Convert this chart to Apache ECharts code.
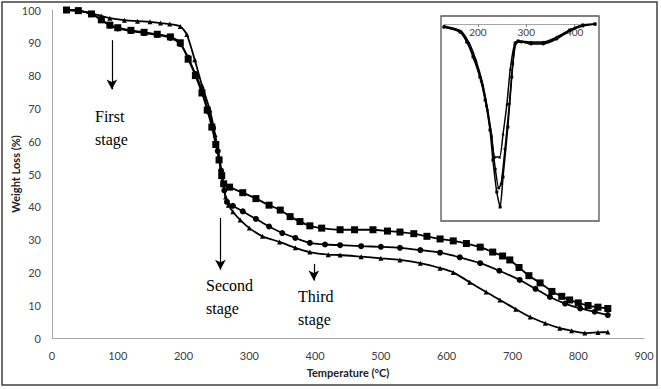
<!DOCTYPE html>
<html><head><meta charset="utf-8">
<script src="https://cdn.jsdelivr.net/npm/echarts@6/dist/echarts.min.js"></script>
<style>html,body{margin:0;padding:0;background:#fff}#c{width:661px;height:389px}</style>
</head><body><div id="c"></div>
<script>
// Main TGA curves [temperature °C, weight %]
var seriesSquare = [[22,100],[40,99.8],[60,98.8],[75,97],[88,95.4],[100,94.6],[120,93.8],[140,93.2],[160,92.6],[180,91.8],[195,90],[207,85],[218,80],[228,74.7],[236,69.5],[243,64.3],[249,59],[254,54.3],[258,49.5],[261,47],[270,46],[290,44.3],[310,42.5],[330,40.5],[347,39],[362,37],[377,35.5],[392,34.2],[410,33.5],[438,33],[460,33],[488,33],[510,32.6],[529,32.3],[550,31.8],[570,31],[590,30.2],[610,29.6],[630,28.8],[651,27.7],[670,26.2],[685,25],[696,23.8],[710,21.5],[725,19],[742,16.8],[760,14.2],[775,12.7],[787,11.6],[800,10.7],[815,9.9],[830,9.4],[845,9]];
var seriesCircle = [[22,100],[40,99.8],[60,98.8],[75,97],[88,95.2],[100,94.4],[120,93.6],[140,93],[160,92.4],[180,91.5],[195,89.6],[207,85.5],[218,80.5],[228,75.5],[238,69],[245,64],[252,57],[257,51],[262,45],[266,41.5],[275,40.3],[290,38.6],[310,36.3],[330,34],[350,32],[370,30.5],[392,29],[415,28.5],[438,28.3],[470,28],[500,27.8],[529,27.5],[560,26.8],[590,26],[620,24.6],[651,22.8],[680,20.5],[711,17.7],[735,15],[757,12.5],[780,10.5],[803,9],[825,8],[845,7]];
var seriesTriangle = [[22,100],[40,99.8],[60,99],[75,98.2],[88,97.5],[110,96.9],[130,96.6],[149,96.4],[165,96],[179,95.7],[195,95],[205,92.5],[217,84.8],[228,77],[240,69.5],[248,62],[255,54.3],[260,47.5],[264,43],[268,40.5],[275,38.5],[286,36],[300,33.5],[320,31],[346,29.3],[370,27.5],[392,26.2],[420,25.4],[438,25.3],[470,24.8],[500,24.3],[529,23.8],[560,22.8],[590,21.3],[610,20],[635,17],[660,14],[681,11.6],[705,8.8],[727,6.4],[750,4.5],[772,3],[790,2.2],[810,1.5],[830,1.7],[845,1.8]];

// Inset DTG curves [temperature °C, derivative (arb.)]
var insetA = [[130,-3],[163,-8],[177,-18],[190,-33],[204,-53],[215,-76],[225,-106],[231,-136],[239,-168],[246,-183],[252,-153],[262,-103],[270,-53],[277,-19],[283,-17],[308,-19],[335,-19],[363,-14],[390,-6],[417,-1],[442,0]];
var insetB = [[130,-3],[165,-8],[180,-19],[193,-35],[207,-57],[218,-82],[228,-113],[236,-145],[243,-164],[248,-160],[256,-125],[265,-80],[272,-40],[279,-19],[290,-18],[310,-20],[335,-20],[363,-15],[390,-7],[417,-2],[442,0]];
var insetC = [[130,-2],[165,-7],[182,-19],[196,-36],[210,-60],[220,-85],[228,-110],[235,-133],[245,-133],[252,-110],[260,-80],[267,-45],[276,-20],[285,-17],[310,-18],[335,-18],[363,-13],[390,-6],[417,-1],[442,0]];

var xTicks = [0,100,200,300,400,500,600,700,800,900];
var yTicks = [0,10,20,30,40,50,60,70,80,90,100];
var insetTicks = [200,300,400];

var chart = echarts.init(document.getElementById('c'), null, {renderer:'svg'});
var lab = {color:'#404040', fontFamily:'Lato', fontSize:11};
function mainSeries(data, sym, size){
  return {type:'line', xAxisIndex:0, yAxisIndex:0, data:data, symbol:sym, symbolSize:size, showAllSymbol:true,
    smooth:0.25, lineStyle:{color:'#000', width:1.8}, itemStyle:{color:'#000'}, z:3, animation:false};
}
function insetSeries(data, sym, size){
  return {type:'line', xAxisIndex:1, yAxisIndex:1, data:data, symbol:sym, symbolSize:size, showAllSymbol:true,
    smooth:0.2, lineStyle:{color:'#000', width:1.5}, itemStyle:{color:'#000'}, z:3, animation:false};
}
var arrow = function(x, y1, y2){
  return [{coord:[x,y1]},{coord:[x,y2]}];
};
var s0 = mainSeries(seriesSquare,'rect',7);
s0.markLine = {silent:true, symbol:['none','arrow'], symbolSize:[8,10], label:{show:false},
  lineStyle:{color:'#000', width:1.2, type:'solid'},
  data:[arrow(91,90.8,75.8), arrow(256,36.6,20.8), arrow(398,22.6,17.5)]};
var option = {
  animation:false,
  backgroundColor:'#fff',
  grid:[
    {left:52, right:17, top:10, bottom:51, outerBoundsMode:'none', containLabel:false},
    {left:444, top:24, width:151, height:190, outerBoundsMode:'none', containLabel:false}
  ],
  xAxis:[
    {type:'value', gridIndex:0, min:0, max:900, interval:100,
     name:'Temperature (°C)', nameLocation:'middle', nameGap:29, nameMoveOverlap:false,
     nameTextStyle:{color:'#222', fontFamily:'Lato', fontSize:11, fontWeight:'bold'},
     axisLine:{show:true, onZero:false, lineStyle:{color:'#a6a6a6', width:1}},
     axisTick:{show:false}, splitLine:{show:false},
     axisLabel:Object.assign({margin:12, customValues:xTicks}, lab)},
    {type:'value', gridIndex:1, min:130, max:442, position:'top',
     axisLine:{show:true, onZero:false, lineStyle:{color:'#a6a6a6', width:1}},
     axisTick:{show:true, inside:true, length:3, customValues:insetTicks, lineStyle:{color:'#888'}},
     splitLine:{show:false},
     axisLabel:{inside:true, customValues:insetTicks, color:'#404040', fontFamily:'Lato', fontSize:10, margin:3}}
  ],
  yAxis:[
    {type:'value', gridIndex:0, min:0, max:100, interval:10,
     name:'Weight Loss (%)', nameLocation:'middle', nameGap:31, nameRotate:90, nameMoveOverlap:false,
     nameTextStyle:{color:'#222', fontFamily:'Lato', fontSize:11, fontWeight:'bold'},
     axisLine:{show:true, lineStyle:{color:'#a6a6a6', width:1}},
     axisTick:{show:false}, splitLine:{show:false},
     axisLabel:Object.assign({margin:11, customValues:yTicks}, lab)},
    {type:'value', gridIndex:1, min:-190, max:0, show:false}
  ],
  graphic:[
    {type:'rect', shape:{x:2, y:2, width:655, height:383}, style:{fill:'none', stroke:'#404040', lineWidth:1.5}, z:10, silent:true},
    {type:'rect', shape:{x:441, y:16, width:158, height:205}, style:{fill:'none', stroke:'#555', lineWidth:1.3}, z:10, silent:true},
    {type:'text', left:95, top:108, style:{text:'First', fill:'#000', font:'16px "Liberation Serif"'}},
    {type:'text', left:95, top:131, style:{text:'stage', fill:'#000', font:'16px "Liberation Serif"'}},
    {type:'text', left:206, top:277, style:{text:'Second', fill:'#000', font:'16px "Liberation Serif"'}},
    {type:'text', left:206, top:300, style:{text:'stage', fill:'#000', font:'16px "Liberation Serif"'}},
    {type:'text', left:298, top:288, style:{text:'Third', fill:'#000', font:'16px "Liberation Serif"'}},
    {type:'text', left:298, top:311, style:{text:'stage', fill:'#000', font:'16px "Liberation Serif"'}}
  ],
  series:[
    s0,
    mainSeries(seriesCircle,'circle',6),
    mainSeries(seriesTriangle,'triangle',5),
    insetSeries(insetA,'rect',3),
    insetSeries(insetB,'circle',3),
    insetSeries(insetC,'triangle',3)
  ]
};
chart.setOption(option);
</script></body></html>
